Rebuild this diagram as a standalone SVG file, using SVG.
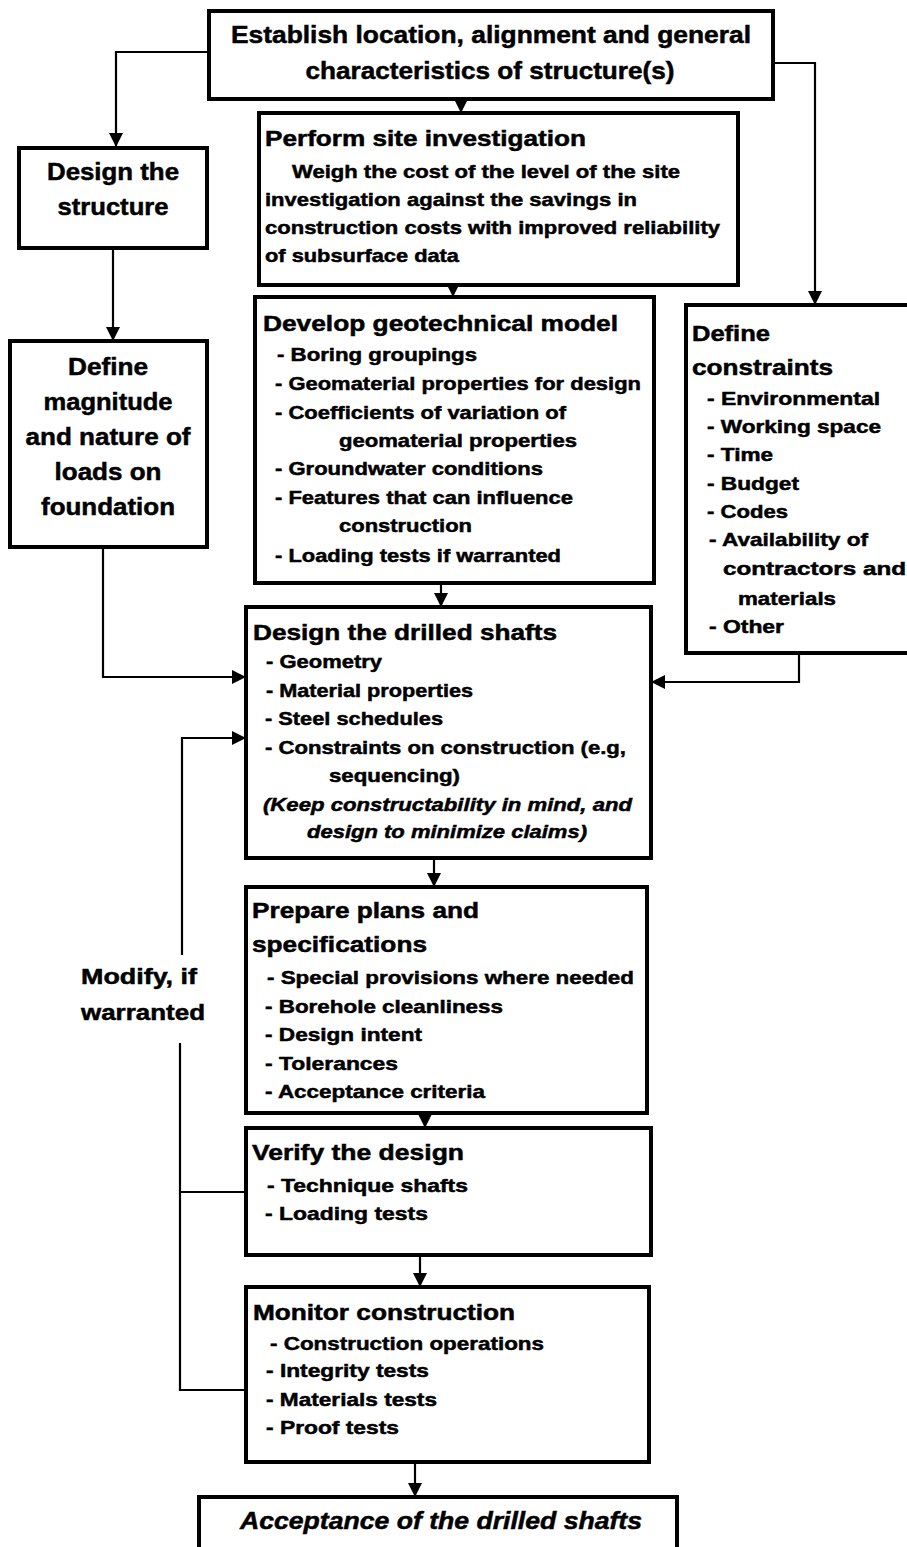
<svg xmlns="http://www.w3.org/2000/svg" width="907" height="1547" viewBox="0 0 907 1547">
<style>
.box{fill:#fff;stroke:#000;stroke-width:4}
.c{fill:none;stroke:#000;stroke-width:2.2}
text{font-family:"Liberation Sans",Arial,sans-serif;font-weight:bold;fill:#000;stroke:#000;stroke-width:0.5}
.t{font-size:24px}
.h{font-size:22px}
.s{font-size:19px}
.it{font-style:italic}
.m{text-anchor:middle}
</style>
<defs>
<marker id="ah" viewBox="0 0 14 14" markerWidth="14" markerHeight="14" markerUnits="userSpaceOnUse" refX="13" refY="7" orient="auto">
<path d="M0,0 L14,7 L0,14 z" fill="#000"/>
</marker>
</defs>
<g id="connectors">
<path class="c" d="M461,100 V112" marker-end="url(#ah)"/>
<path class="c" d="M208,52 H116 V146" marker-end="url(#ah)"/>
<path class="c" d="M773,63 H815 V304" marker-end="url(#ah)"/>
<path class="c" d="M113,248 V340" marker-end="url(#ah)"/>
<path class="c" d="M453,285 V296" marker-end="url(#ah)"/>
<path class="c" d="M441,583 V606" marker-end="url(#ah)"/>
<path class="c" d="M103,547 V677 H245" marker-end="url(#ah)"/>
<path class="c" d="M799,653 V682 H652" marker-end="url(#ah)"/>
<path class="c" d="M434,858 V886" marker-end="url(#ah)"/>
<path class="c" d="M425,1113 V1127" marker-end="url(#ah)"/>
<path class="c" d="M420,1255 V1286" marker-end="url(#ah)"/>
<path class="c" d="M415,1462 V1496" marker-end="url(#ah)"/>
<path class="c" d="M246,1390 H180 V1043"/>
<path class="c" d="M246,1192 H181"/>
<path class="c" d="M182,955 V738 H245" marker-end="url(#ah)"/>
</g>
<g id="label-modify">
<text class="h" x="81" y="984" textLength="116" lengthAdjust="spacingAndGlyphs">Modify, if</text>
<text class="h" x="81" y="1020" textLength="124" lengthAdjust="spacingAndGlyphs">warranted</text>
</g>
<g id="establish">
<rect class="box" x="209" y="11" width="564" height="88"/>
<text class="t m" x="491" y="43" textLength="520" lengthAdjust="spacingAndGlyphs">Establish location, alignment and general</text>
<text class="t m" x="490" y="79" textLength="369" lengthAdjust="spacingAndGlyphs">characteristics of structure(s)</text>
</g>
<g id="design-structure">
<rect class="box" x="19" y="148" width="188" height="100"/>
<text class="t m" x="113" y="180" textLength="132" lengthAdjust="spacingAndGlyphs">Design the</text>
<text class="t m" x="113" y="215" textLength="111" lengthAdjust="spacingAndGlyphs">structure</text>
</g>
<g id="site-investigation">
<rect class="box" x="259" y="113" width="479" height="172"/>
<text class="h" x="265" y="146" textLength="321" lengthAdjust="spacingAndGlyphs">Perform site investigation</text>
<text class="s" x="292" y="178" textLength="388" lengthAdjust="spacingAndGlyphs">Weigh the cost of the level of the site</text>
<text class="s" x="265" y="206" textLength="372" lengthAdjust="spacingAndGlyphs">investigation against the savings in</text>
<text class="s" x="265" y="234" textLength="455" lengthAdjust="spacingAndGlyphs">construction costs with improved reliability</text>
<text class="s" x="265" y="262" textLength="194" lengthAdjust="spacingAndGlyphs">of subsurface data</text>
</g>
<g id="define-loads">
<rect class="box" x="10" y="341" width="197" height="206"/>
<text class="t m" x="108" y="375" textLength="80" lengthAdjust="spacingAndGlyphs">Define</text>
<text class="t m" x="108" y="410" textLength="129" lengthAdjust="spacingAndGlyphs">magnitude</text>
<text class="t m" x="108" y="445" textLength="165" lengthAdjust="spacingAndGlyphs">and nature of</text>
<text class="t m" x="108" y="480" textLength="107" lengthAdjust="spacingAndGlyphs">loads on</text>
<text class="t m" x="108" y="515" textLength="134" lengthAdjust="spacingAndGlyphs">foundation</text>
</g>
<g id="geotechnical-model">
<rect class="box" x="255" y="297" width="399" height="286"/>
<text class="h" x="263" y="331" textLength="355" lengthAdjust="spacingAndGlyphs">Develop geotechnical model</text>
<text class="s" x="277" y="361" textLength="200" lengthAdjust="spacingAndGlyphs">- Boring groupings</text>
<text class="s" x="275" y="390" textLength="366" lengthAdjust="spacingAndGlyphs">- Geomaterial properties for design</text>
<text class="s" x="275" y="419" textLength="291" lengthAdjust="spacingAndGlyphs">- Coefficients of variation of</text>
<text class="s" x="339" y="447" textLength="238" lengthAdjust="spacingAndGlyphs">geomaterial properties</text>
<text class="s" x="275" y="475" textLength="268" lengthAdjust="spacingAndGlyphs">- Groundwater conditions</text>
<text class="s" x="275" y="504" textLength="298" lengthAdjust="spacingAndGlyphs">- Features that can influence</text>
<text class="s" x="339" y="532" textLength="133" lengthAdjust="spacingAndGlyphs">construction</text>
<text class="s" x="275" y="562" textLength="286" lengthAdjust="spacingAndGlyphs">- Loading tests if warranted</text>
</g>
<g id="define-constraints">
<rect class="box" x="686" y="305" width="230" height="348"/>
<text class="h" x="692" y="341" textLength="78" lengthAdjust="spacingAndGlyphs">Define</text>
<text class="h" x="692" y="375" textLength="141" lengthAdjust="spacingAndGlyphs">constraints</text>
<text class="s" x="707" y="405" textLength="173" lengthAdjust="spacingAndGlyphs">- Environmental</text>
<text class="s" x="707" y="433" textLength="174" lengthAdjust="spacingAndGlyphs">- Working space</text>
<text class="s" x="707" y="461" textLength="66" lengthAdjust="spacingAndGlyphs">- Time</text>
<text class="s" x="707" y="490" textLength="92" lengthAdjust="spacingAndGlyphs">- Budget</text>
<text class="s" x="707" y="518" textLength="81" lengthAdjust="spacingAndGlyphs">- Codes</text>
<text class="s" x="709" y="546" textLength="159" lengthAdjust="spacingAndGlyphs">- Availability of</text>
<text class="s" x="723" y="575" textLength="183" lengthAdjust="spacingAndGlyphs">contractors and</text>
<text class="s" x="738" y="605" textLength="98" lengthAdjust="spacingAndGlyphs">materials</text>
<text class="s" x="709" y="633" textLength="75" lengthAdjust="spacingAndGlyphs">- Other</text>
</g>
<g id="design-shafts">
<rect class="box" x="246" y="607" width="405" height="251"/>
<text class="h" x="253" y="640" textLength="304" lengthAdjust="spacingAndGlyphs">Design the drilled shafts</text>
<text class="s" x="266" y="668" textLength="116" lengthAdjust="spacingAndGlyphs">- Geometry</text>
<text class="s" x="266" y="697" textLength="207" lengthAdjust="spacingAndGlyphs">- Material properties</text>
<text class="s" x="265" y="725" textLength="178" lengthAdjust="spacingAndGlyphs">- Steel schedules</text>
<text class="s" x="265" y="754" textLength="361" lengthAdjust="spacingAndGlyphs">- Constraints on construction (e.g,</text>
<text class="s" x="329" y="782" textLength="131" lengthAdjust="spacingAndGlyphs">sequencing)</text>
<text class="s it" x="263" y="811" textLength="369" lengthAdjust="spacingAndGlyphs">(Keep constructability in mind, and</text>
<text class="s it" x="307" y="838" textLength="280" lengthAdjust="spacingAndGlyphs">design to minimize claims)</text>
</g>
<g id="prepare-plans">
<rect class="box" x="246" y="887" width="401" height="226"/>
<text class="h" x="252" y="918" textLength="227" lengthAdjust="spacingAndGlyphs">Prepare plans and</text>
<text class="h" x="252" y="952" textLength="175" lengthAdjust="spacingAndGlyphs">specifications</text>
<text class="s" x="267" y="984" textLength="367" lengthAdjust="spacingAndGlyphs">- Special provisions where needed</text>
<text class="s" x="265" y="1013" textLength="238" lengthAdjust="spacingAndGlyphs">- Borehole cleanliness</text>
<text class="s" x="265" y="1041" textLength="157" lengthAdjust="spacingAndGlyphs">- Design intent</text>
<text class="s" x="265" y="1070" textLength="133" lengthAdjust="spacingAndGlyphs">- Tolerances</text>
<text class="s" x="265" y="1098" textLength="220" lengthAdjust="spacingAndGlyphs">- Acceptance criteria</text>
</g>
<g id="verify-design">
<rect class="box" x="246" y="1128" width="405" height="127"/>
<text class="h" x="252" y="1160" textLength="212" lengthAdjust="spacingAndGlyphs">Verify the design</text>
<text class="s" x="267" y="1192" textLength="201" lengthAdjust="spacingAndGlyphs">- Technique shafts</text>
<text class="s" x="265" y="1220" textLength="163" lengthAdjust="spacingAndGlyphs">- Loading tests</text>
</g>
<g id="monitor-construction">
<rect class="box" x="246" y="1287" width="403" height="175"/>
<text class="h" x="253" y="1320" textLength="262" lengthAdjust="spacingAndGlyphs">Monitor construction</text>
<text class="s" x="270" y="1350" textLength="274" lengthAdjust="spacingAndGlyphs">- Construction operations</text>
<text class="s" x="266" y="1377" textLength="163" lengthAdjust="spacingAndGlyphs">- Integrity tests</text>
<text class="s" x="266" y="1406" textLength="171" lengthAdjust="spacingAndGlyphs">- Materials tests</text>
<text class="s" x="266" y="1434" textLength="133" lengthAdjust="spacingAndGlyphs">- Proof tests</text>
</g>
<g id="acceptance">
<rect class="box" x="199" y="1497" width="478" height="70"/>
<text class="t it m" x="441" y="1529" textLength="402" lengthAdjust="spacingAndGlyphs">Acceptance of the drilled shafts</text>
</g>
</svg>
